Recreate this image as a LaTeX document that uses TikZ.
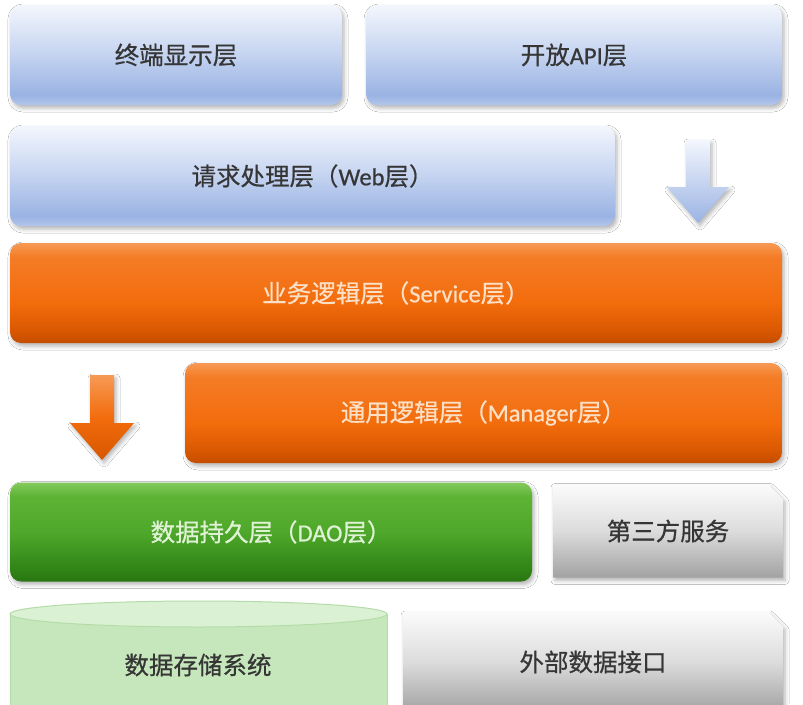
\documentclass[tikz,border=0pt]{standalone}
\usepackage{fontspec}
\setmainfont{Carlito}[FakeBold=0.6]
\newfontfamily\cjk{Noto Sans CJK SC}[FakeBold=0.6]
\usetikzlibrary{shapes.misc,shadows.blur}

\definecolor{bT}{HTML}{F3F6FD}
\definecolor{bM}{HTML}{C8D6F1}
\definecolor{bD}{HTML}{9AB3E3}
\definecolor{bB}{HTML}{B3C6EC}
\definecolor{oT}{HTML}{F69A55}
\definecolor{oU}{HTML}{F47C26}
\definecolor{oM}{HTML}{F36C0C}
\definecolor{oD}{HTML}{D65600}
\definecolor{oB}{HTML}{C44D00}
\definecolor{gT}{HTML}{84CA5E}
\definecolor{gU}{HTML}{5DB334}
\definecolor{gM}{HTML}{4FA82B}
\definecolor{gD}{HTML}{2F8416}
\definecolor{gB}{HTML}{2A7512}
\definecolor{grT}{HTML}{FBFBFB}
\definecolor{grM}{HTML}{DCDCDC}
\definecolor{grB}{HTML}{A2A2A2}
\definecolor{cylBody}{HTML}{C6E7BC}
\definecolor{cylTop}{HTML}{DAF1D3}
\definecolor{cylEdge}{HTML}{B4DCA8}
\definecolor{txtdark}{HTML}{363636}
\definecolor{txtorange}{HTML}{FCE0C6}
\definecolor{txtgreen}{HTML}{E0F2D6}

\pgfdeclareverticalshading{blueshade}{100bp}{color(0bp)=(bB); color(25bp)=(bB); color(30bp)=(bD); color(52bp)=(bM); color(75bp)=(bT); color(100bp)=(bT)}
\pgfdeclareverticalshading{orangeshade}{100bp}{color(0bp)=(oB); color(25bp)=(oB); color(30bp)=(oD); color(45bp)=(oM); color(68bp)=(oU); color(75bp)=(oT); color(100bp)=(oT)}
\pgfdeclareverticalshading{greenshade}{100bp}{color(0bp)=(gB); color(25bp)=(gB); color(31bp)=(gD); color(50bp)=(gM); color(68bp)=(gU); color(75bp)=(gT); color(100bp)=(gT)}
\pgfdeclareverticalshading{grayshade}{100bp}{color(0bp)=(grB); color(25bp)=(grB); color(50bp)=(grM); color(75bp)=(grT); color(100bp)=(grT)}
\pgfdeclareverticalshading{bluearrowshade}{100bp}{color(0bp)=(bD); color(25bp)=(bD); color(75bp)=(bT); color(100bp)=(bT)}
\pgfdeclareverticalshading{orangearrowshade}{100bp}{color(0bp)=(oD); color(25bp)=(oD); color(50bp)=(oM); color(75bp)=(oT); color(100bp)=(oT)}

\tikzset{
  softshadow/.style={blur shadow={shadow xshift=2pt, shadow yshift=-3pt, shadow blur radius=4pt, shadow opacity=30}},
  layer/.style={rounded corners=11pt, inner sep=0pt, softshadow, shade,
                font=\fontsize{24.5}{28}\selectfont},
  bluebox/.style={layer, shading=blueshade, text=txtdark},
  orangebox/.style={layer, shading=orangeshade, text=txtorange},
  greenbox/.style={layer, shading=greenshade, text=txtgreen},
  graybox/.style={inner sep=0pt, softshadow, shade, shading=grayshade, text=txtdark,
                  chamfered rectangle, chamfered rectangle corners=north east,
                  chamfered rectangle xsep=12pt,
                  font=\fontsize{24.5}{28}\selectfont},
  labeltext/.style={inner sep=0pt, font=\fontsize{24.5}{28}\selectfont, text=txtdark},
}

\begin{document}
\begin{tikzpicture}[x=1pt,y=-1pt]
\useasboundingbox (0,0) rectangle (803,704);
\fill[white] (0,0) rectangle (803,704);

% top row
\node[bluebox, minimum width=332, minimum height=100] (term) at (176,55) {\cjk 终端显示层};
\node[bluebox, minimum width=416, minimum height=100] (api) at (574,55) {{\cjk 开放}API{\cjk 层}};

% web layer
\node[bluebox, minimum width=605, minimum height=100] (web) at (312.5,176) {{\cjk 请求处理层（}Web{\cjk 层）}};

% blue block arrow
\path[softshadow, shade, shading=bluearrowshade]
  (686,140) -- (710,140) -- (710,187) -- (729,187) -- (698,223) -- (667,187) -- (686,187) -- cycle;

% service layer
\node[orangebox, minimum width=772, minimum height=100] (service) at (396,293) {{\cjk 业务逻辑层（}Service{\cjk 层）}};

% orange block arrow
\path[softshadow, shade, shading=orangearrowshade]
  (90,375) -- (114,375) -- (114,423) -- (134,423) -- (102,460) -- (70,423) -- (90,423) -- cycle;

% manager layer
\node[orangebox, minimum width=597, minimum height=100] (manager) at (483.5,413) {{\cjk 通用逻辑层（}Manager{\cjk 层）}};

% DAO layer
\node[greenbox, minimum width=522, minimum height=99] (dao) at (271,532) {{\cjk 数据持久层（}DAO{\cjk 层）}};

% third party
\node[graybox, minimum width=230, minimum height=93] (third) at (668,531) {\cjk 第三方服务};

% storage cylinder
\fill[cylBody] (10,614) rectangle (387,712);
\draw[cylEdge, line width=1pt] (10,614) -- (10,712) (387,614) -- (387,712);
\filldraw[fill=cylTop, draw=cylEdge, line width=1pt] (198.5,614) ellipse [x radius=188.5, y radius=13];
\node[labeltext] (store) at (198,665) {\cjk 数据存储系统};

% external data interface
\node[graybox, minimum width=380, minimum height=100] (ext) at (593,662) {\cjk 外部数据接口};
\end{tikzpicture}
\end{document}
